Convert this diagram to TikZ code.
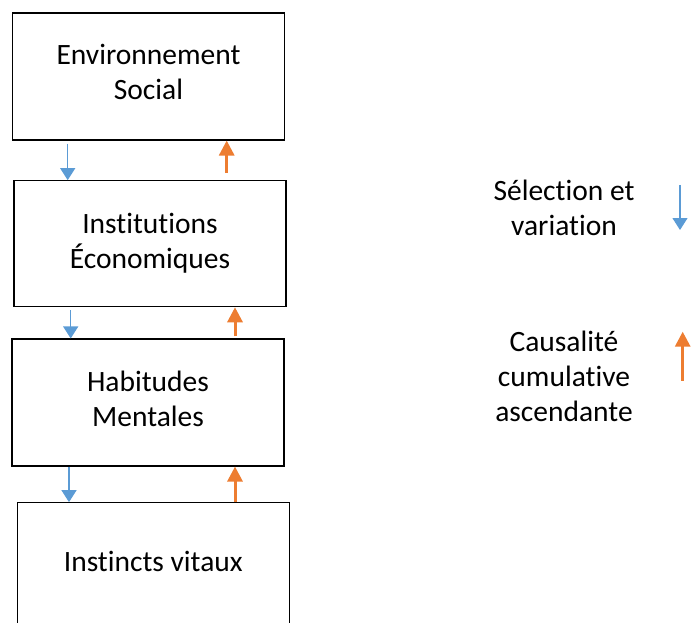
\documentclass[tikz,border=0pt]{standalone}
\usepackage{fontspec}
\setmainfont[Ligatures=NoCommon]{Carlito}
\usetikzlibrary{arrows.meta}
\definecolor{selblue}{HTML}{5B9BD5}
\definecolor{causorange}{HTML}{ED7D31}
\tikzset{
  box/.style={draw=black, line width=1.1pt, minimum width=272pt, minimum height=#1, inner sep=0pt, fill=white},
  lbl/.style={anchor=base, align=center, inner sep=0pt, font=\fontsize{29.5}{35}\selectfont},
  downarr/.style={draw=selblue, line width=1.2pt, -{Triangle[width=15pt,length=12pt]}},
  uparr/.style={draw=causorange, line width=3pt, -{Triangle[width=15pt,length=15pt]}}
}
\begin{document}
\begin{tikzpicture}[x=1pt,y=-1pt]
\path[use as bounding box, clip] (0,0) rectangle (691,623);
\node[box=127pt] (b1) at (148.5,76.5) {};
\node[box=126pt] (b2) at (150,243.7) {};
\node[box=127pt] (b3) at (148,402.5) {};
\node[box=130pt] (b4) at (153.3,567.7) {};
\node[lbl] (t1) at (148.5,100) {Environnement\\Social};
\node[lbl] (t2) at (150,268) {Institutions\\Économiques};
\node[lbl] (t3) at (148,426.7) {Habitudes\\Mentales};
\node[lbl] (t4) at (153.3,571.7) {Instincts vitaux};
\node[lbl] (l1) at (564,235) {Sélection et\\variation};
\node[lbl] (l2) at (564,421.7) {Causalité\\cumulative\\ascendante};
% connectors
\draw[downarr, shorten <=3pt] (67.7,0 |- b1.south) -- (67.7,0 |- b2.north);
\draw[uparr, shorten <=7pt] (226.7,0 |- b2.north) -- (226.7,0 |- b1.south);
\draw[downarr, shorten <=3pt] (70.7,0 |- b2.south) -- (70.7,0 |- b3.north);
\draw[uparr, shorten <=2pt] (235,0 |- b3.north) -- (235,0 |- b2.south);
\draw[downarr] (69,0 |- b3.south) -- (69,0 |- b4.north);
\draw[uparr] (235,0 |- b4.north) -- (235,0 |- b3.south);
% legend arrows
\coordinate (la1) at (680,185);
\coordinate (la2) at (680,230);
\coordinate (lb1) at (682.7,380.7);
\coordinate (lb2) at (682.7,331.7);
\draw[downarr] (la1) -- (la2);
\draw[uparr] (lb1) -- (lb2);
\end{tikzpicture}
\end{document}
